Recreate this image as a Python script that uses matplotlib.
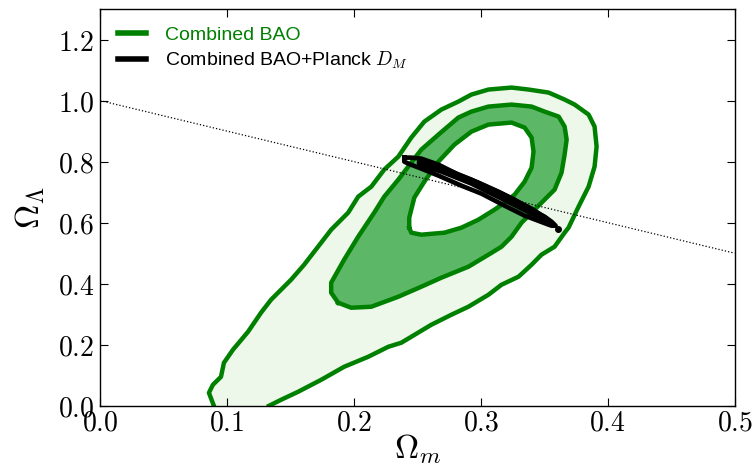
import matplotlib
matplotlib.use("Agg")
import matplotlib.pyplot as plt
from matplotlib.lines import Line2D

plt.rcParams['mathtext.fontset'] = 'cm'

# ---- data ----
xticks = [0.0, 0.1, 0.2, 0.3, 0.4, 0.5]
xticklabels = ['$0.0$', '$0.1$', '$0.2$', '$0.3$', '$0.4$', '$0.5$']
yticks = [0.0, 0.2, 0.4, 0.6, 0.8, 1.0, 1.2]
yticklabels = ['$0.0$', '$0.2$', '$0.4$', '$0.6$', '$0.8$', '$1.0$', '$1.2$']

# flat-universe line
flat_om = [0.0, 0.5]
flat_ol = [1.0, 0.5]

# Combined BAO, 2-sigma boundary (open at Omega_Lambda = 0)
bao2_om = [0.0897, 0.0858, 0.0889, 0.0953, 0.0976, 0.1047, 0.1166, 0.1268, 0.1347, 0.1505,
           0.1608, 0.1742, 0.1821, 0.1955, 0.2034, 0.2137, 0.2239, 0.2350, 0.2452, 0.2555,
           0.2689, 0.2823, 0.2926, 0.3060, 0.3242, 0.3376, 0.3534, 0.3660, 0.3739, 0.3849,
           0.3896, 0.3912, 0.3896, 0.3849, 0.3770, 0.3691, 0.3660, 0.3581, 0.3478, 0.3400,
           0.3297, 0.3163, 0.3060, 0.2902, 0.2768, 0.2610, 0.2452, 0.2373, 0.2271, 0.2113,
           0.1923, 0.1742, 0.1560, 0.1426, 0.1331]
bao2_ol = [0.0, 0.0426, 0.0689, 0.0951, 0.1410, 0.1836, 0.2426, 0.3049, 0.3475, 0.4131,
           0.4623, 0.5344, 0.5770, 0.6328, 0.6852, 0.7180, 0.7738, 0.8164, 0.8787, 0.9311,
           0.9705, 0.9967, 1.0197, 1.0361, 1.0426, 1.0361, 1.0262, 1.0033, 0.9869, 0.9541,
           0.9148, 0.8492, 0.7836, 0.7180, 0.6525, 0.5836, 0.5672, 0.5213, 0.4951, 0.4623,
           0.4230, 0.3967, 0.3639, 0.3246, 0.2984, 0.2656, 0.2262, 0.2066, 0.1934, 0.1607,
           0.1279, 0.0852, 0.0459, 0.0197, 0.0]

# Combined BAO, 1-sigma outer boundary
bao1_om = [0.1876, 0.1821, 0.1821, 0.1923, 0.2034, 0.2160, 0.2239, 0.2350, 0.2452, 0.2531,
           0.2666, 0.2823, 0.2926, 0.3060, 0.3242, 0.3400, 0.3502, 0.3613, 0.3660, 0.3676,
           0.3660, 0.3636, 0.3581, 0.3502, 0.3400, 0.3321, 0.3242, 0.3163, 0.3060, 0.2902,
           0.2689, 0.2531, 0.2350, 0.2137, 0.1979]
bao1_ol = [0.3377, 0.3705, 0.4033, 0.4787, 0.5541, 0.6328, 0.6852, 0.7410, 0.7967, 0.8393,
           0.8885, 0.9443, 0.9639, 0.9803, 0.9869, 0.9803, 0.9639, 0.9475, 0.9148, 0.8721,
           0.8230, 0.7639, 0.7082, 0.6754, 0.6328, 0.6000, 0.5541, 0.5213, 0.4951, 0.4557,
           0.4197, 0.3902, 0.3574, 0.3246, 0.3213]

# Combined BAO, 1-sigma inner boundary (hole)
hole_om = [0.2436, 0.2436, 0.2476, 0.2555, 0.2666, 0.2792, 0.2926, 0.3060, 0.3242, 0.3345,
           0.3400, 0.3415, 0.3400, 0.3345, 0.3266, 0.3187, 0.3108, 0.2981, 0.2847, 0.2713,
           0.2531, 0.2452]
hole_ol = [0.5836, 0.6164, 0.6820, 0.7344, 0.8000, 0.8557, 0.8984, 0.9213, 0.9279, 0.9115,
           0.8787, 0.8328, 0.7803, 0.7344, 0.6918, 0.6656, 0.6426, 0.6098, 0.5836, 0.5672,
           0.5607, 0.5672]

# Combined BAO + Planck D_M contours
pl2_om = [0.2397, 0.2452, 0.2531, 0.2666, 0.2823, 0.2981, 0.3139, 0.3266, 0.3400, 0.3502,
          0.3557, 0.3589, 0.3557, 0.3534, 0.3345, 0.3187, 0.3005, 0.2847, 0.2666, 0.2531,
          0.2429, 0.2397]
pl2_ol = [0.8131, 0.8131, 0.8098, 0.7902, 0.7574, 0.7311, 0.7016, 0.6754, 0.6426, 0.6197,
          0.6033, 0.5902, 0.5902, 0.5934, 0.6230, 0.6557, 0.6951, 0.7213, 0.7541, 0.7770,
          0.7934, 0.8000]
pl1_om = [0.2515, 0.2689, 0.2926, 0.3163, 0.3400, 0.3518, 0.3518, 0.3400, 0.3163, 0.2926,
          0.2689, 0.2515, 0.2515]
pl1_ol = [0.8000, 0.7803, 0.7410, 0.6951, 0.6459, 0.6131, 0.6066, 0.6295, 0.6787, 0.7279,
          0.7672, 0.7902, 0.8000]
pl_dot_om = [0.3605]
pl_dot_ol = [0.5803]

GREEN = '#008000'
LIGHT = '#eef8ea'
MID = '#5cb866'

fig = plt.figure(figsize=(7.52, 4.73), dpi=100)
ax = fig.add_axes([0.133, 0.142, 0.844, 0.839])

ax.fill(bao2_om, bao2_ol, color=LIGHT, lw=0, zorder=1)
ax.fill(bao1_om, bao1_ol, color=MID, lw=0, zorder=1.1)
ax.fill(hole_om, hole_ol, color='white', lw=0, zorder=1.2)
ax.plot(bao2_om, bao2_ol, color=GREEN, lw=3.2, zorder=1.5, solid_joinstyle='round')
ax.plot(bao1_om + bao1_om[:1], bao1_ol + bao1_ol[:1], color=GREEN, lw=3.2, zorder=1.5,
        solid_joinstyle='round')
ax.plot(hole_om + hole_om[:1], hole_ol + hole_ol[:1], color=GREEN, lw=3.2, zorder=1.5,
        solid_joinstyle='round')

ax.plot(flat_om, flat_ol, color='black', ls=':', lw=0.9, zorder=1.8)

ax.plot(pl2_om + pl2_om[:1], pl2_ol + pl2_ol[:1], color='black', lw=3.3, zorder=2,
        solid_joinstyle='round')
ax.plot(pl1_om, pl1_ol, color='black', lw=3.3, zorder=2, solid_joinstyle='round')
ax.plot(pl_dot_om, pl_dot_ol, 'o', color='black', ms=4, zorder=2)

ax.set_xlim(0.0, 0.5)
ax.set_ylim(0.0, 1.3)
ax.set_xticks(xticks)
ax.set_xticklabels(xticklabels)
ax.set_yticks(yticks)
ax.set_yticklabels(yticklabels)
ax.tick_params(direction='in', top=True, right=True, length=6, width=0.8,
               labelsize=20, pad=4)
ax.tick_params(axis='x', pad=2)
for s in ax.spines.values():
    s.set_linewidth(1.0)

ax.set_xlabel(r'$\Omega_m$', fontsize=24, labelpad=-3)
ax.set_ylabel(r'$\Omega_\Lambda$', fontsize=24, labelpad=8)

handles = [Line2D([], [], color=GREEN, lw=4), Line2D([], [], color='black', lw=4)]
leg = ax.legend(handles, ['Combined BAO', r'Combined BAO+Planck $D_M$'],
                loc='upper left', frameon=False,
                prop={'family': 'Liberation Sans', 'size': 14},
                handlelength=1.45, handletextpad=1.0, labelspacing=0.3,
                borderaxespad=0.5)
for t, c in zip(leg.get_texts(), [GREEN, 'black']):
    t.set_color(c)

fig.savefig('out.png', dpi=100)
